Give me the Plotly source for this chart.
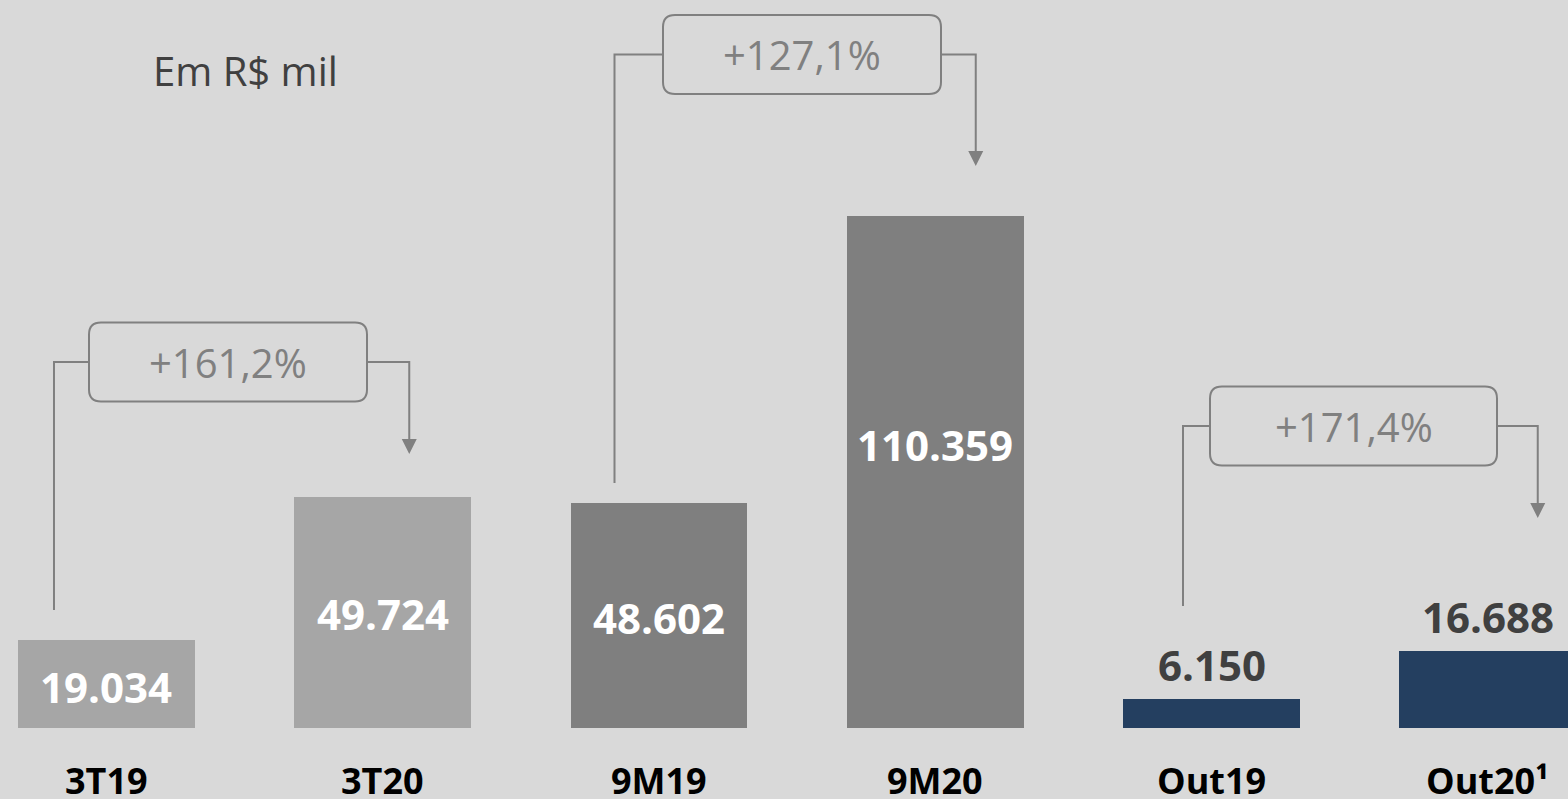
import plotly.graph_objects as go

# ---------------- data ----------------
categories = ["3T19", "3T20", "9M19", "9M20", "Out19", "Out20¹"]
values = [19034, 49724, 48602, 110359, 6150, 16688]
value_labels = ["19.034", "49.724", "48.602", "110.359", "6.150", "16.688"]
growth_labels = ["+161,2%", "+127,1%", "+171,4%"]
growth_pairs = [(0, 1), (2, 3), (4, 5)]

# ---------------- style ----------------
W, H = 1568, 799
BG = "#d9d9d9"
bar_colors = ["#a6a6a6", "#a6a6a6", "#7f7f7f", "#7f7f7f", "#243f60", "#243f60"]
label_inside = [True, True, True, True, False, False]
label_shift = [-3, -1, -2, 28, 4, 4]
LINE = "#808080"
FONT = "Open Sans"

M_B = 71
plot_h = H - M_B
x_range = [-0.3855, 5.2905]
y_range = [0, 156916]
dxp = (x_range[1] - x_range[0]) / W      # data units per pixel (x)
dyp = (y_range[1] - y_range[0]) / plot_h  # data units per pixel (y)

x = list(range(len(categories)))

fig = go.Figure()
fig.add_trace(go.Bar(
    x=x, y=values, width=0.6407,
    marker=dict(color=bar_colors, line=dict(width=0)),
    hoverinfo="skip", showlegend=False,
))

annotations = []
shapes = []

# value labels
for i, (v, lab) in enumerate(zip(values, value_labels)):
    if label_inside[i]:
        annotations.append(dict(
            x=i, y=v / 2, xref="x", yref="y", text=f"<b>{lab}</b>",
            showarrow=False, xanchor="center", yanchor="middle", yshift=label_shift[i],
            font=dict(family=FONT, size=42, color="white")))
    else:
        annotations.append(dict(
            x=i, y=v, xref="x", yref="y", text=f"<b>{lab}</b>",
            showarrow=False, xanchor="center", yanchor="bottom", yshift=label_shift[i],
            font=dict(family=FONT, size=42, color="#404040")))

# category labels
for i, c in enumerate(categories):
    annotations.append(dict(
        x=i, y=0, xref="x", yref="paper", text=f"<b>{c}</b>",
        showarrow=False, xanchor="center", yanchor="middle", yshift=-52,
        font=dict(family=FONT, size=36, color="black")))

# unit note
annotations.append(dict(
    x=245 / W, y=(plot_h - 70) / plot_h, xref="paper", yref="paper",
    text="Em R$ mil", showarrow=False, xanchor="center", yanchor="middle",
    font=dict(family=FONT, size=40, color="#404040")))

# growth brackets (geometry in pixels)
bracket_geom = [
    dict(left_off=-52.5, bottom_px=610, hy_px=362, box_cx=228, box_w=278, right_off=26.5, tip_px=454),
    dict(left_off=-44.5, bottom_px=483, hy_px=54.5, box_cx=802, box_w=278, right_off=40.5, tip_px=166),
    dict(left_off=-28.5, bottom_px=606, hy_px=426, box_cx=1353.5, box_w=287, right_off=50, tip_px=518),
]
BOX_H = 79
R = 12


def X(px):
    return x_range[0] + px * dxp


def Y(py):
    return (plot_h - py) * dyp


for (a, b), g, txt in zip(growth_pairs, bracket_geom, growth_labels):
    xl = a + g["left_off"] * dxp
    xr = b + g["right_off"] * dxp
    hy = Y(g["hy_px"])
    bx0 = X(g["box_cx"] - g["box_w"] / 2)
    bx1 = X(g["box_cx"] + g["box_w"] / 2)
    by0 = Y(g["hy_px"] + BOX_H / 2)
    by1 = Y(g["hy_px"] - BOX_H / 2)
    ybot = Y(g["bottom_px"])
    ytip = Y(g["tip_px"])
    line = dict(color=LINE, width=2)
    shapes.append(dict(type="path", xref="x", yref="y",
                       path=f"M{xl},{ybot} L{xl},{hy} L{bx0},{hy}", line=line))
    shapes.append(dict(type="path", xref="x", yref="y",
                       path=f"M{bx1},{hy} L{xr},{hy} L{xr},{ytip + 14 * dyp}", line=line))
    ah_w = 7.5 * dxp
    ah_h = 15 * dyp
    shapes.append(dict(type="path", xref="x", yref="y",
                       path=f"M{xr - ah_w},{ytip + ah_h} L{xr + ah_w},{ytip + ah_h} L{xr},{ytip} Z",
                       fillcolor=LINE, line=dict(color=LINE, width=0)))
    rx, ry = R * dxp, R * dyp
    p = (f"M{bx0 + rx},{by1} L{bx1 - rx},{by1} Q{bx1},{by1} {bx1},{by1 - ry} "
         f"L{bx1},{by0 + ry} Q{bx1},{by0} {bx1 - rx},{by0} "
         f"L{bx0 + rx},{by0} Q{bx0},{by0} {bx0},{by0 + ry} "
         f"L{bx0},{by1 - ry} Q{bx0},{by1} {bx0 + rx},{by1} Z")
    shapes.append(dict(type="path", xref="x", yref="y", path=p, line=line))
    annotations.append(dict(
        x=(bx0 + bx1) / 2, y=hy, xref="x", yref="y", text=txt, showarrow=False,
        xanchor="center", yanchor="middle",
        font=dict(family=FONT, size=40, color=LINE)))

fig.update_layout(
    width=W, height=H,
    margin=dict(l=0, r=0, t=0, b=M_B, pad=0),
    paper_bgcolor=BG, plot_bgcolor=BG,
    xaxis=dict(range=x_range, visible=False, fixedrange=True),
    yaxis=dict(range=y_range, visible=False, fixedrange=True),
    shapes=shapes, annotations=annotations,
    bargap=0,
)

fig.write_html("out.html", config={"displayModeBar": False})
